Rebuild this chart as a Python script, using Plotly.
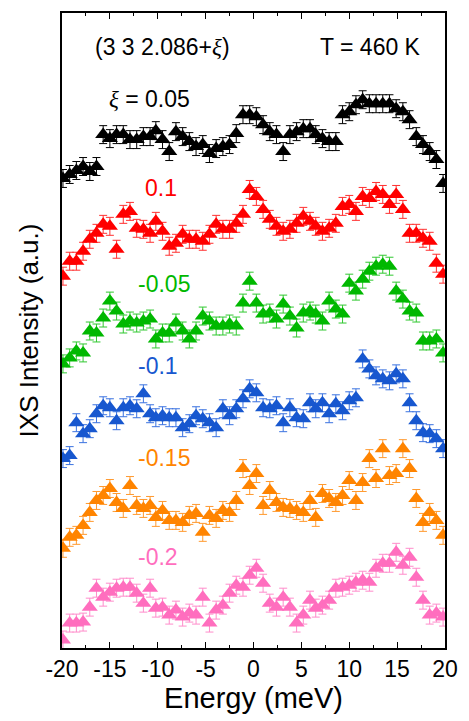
import plotly.graph_objects as go

energy = [-19.9, -19.2, -18.5, -17.8, -17.1, -16.4, -15.7, -15.0, -14.3, -13.6,
          -12.9, -12.2, -11.5, -10.8, -10.2, -9.5, -8.8, -8.1, -7.4, -6.7,
          -6.0, -5.3, -4.6, -3.9, -3.2, -2.5, -1.8, -1.1, -0.4, 0.3,
          1.0, 1.7, 2.4, 3.1, 3.8, 4.5, 5.2, 5.9, 6.5, 7.2,
          7.9, 8.6, 9.3, 10.0, 10.7, 11.4, 12.1, 12.8, 13.5, 14.2,
          14.9, 15.6, 16.3, 17.0, 17.7, 18.4, 19.1, 19.8]

xi_005 = [473, 477, 481, 485, 480, 485, 517, 513, 517, 517, 512, 512, 515, 515, 521, 512, 500, 520, 515, 510,
          505, 507, 498, 503, 505, 507, 518, 537, 537, 535, 527, 520, 517, 500, 517, 520, 523, 523, 517, 513,
          510, 510, 537, 540, 547, 552, 548, 548, 548, 548, 543, 540, 532, 515, 507, 500, 492, 468]
xi_01 = [375, 390, 390, 400, 412, 418, 427, 425, 402, 437, 440, 423, 422, 418, 430, 420, 405, 408, 417, 412,
         412, 410, 417, 427, 422, 422, 428, 437, 462, 455, 442, 432, 425, 420, 422, 428, 435, 430, 425, 420,
         423, 428, 445, 447, 440, 455, 453, 460, 457, 447, 457, 442, 418, 418, 413, 410, 388, 377]
xi_m005 = [287, 293, 300, 298, 320, 318, 333, 350, 340, 327, 330, 328, 330, 332, 312, 318, 318, 328, 320, 312,
           320, 335, 330, 325, 325, 327, 325, 348, 370, 348, 337, 338, 332, 347, 335, 323, 338, 340, 337, 330,
           350, 342, 337, 368, 360, 372, 380, 385, 387, 385, 360, 352, 340, 338, 310, 310, 312, 298]
xi_m01 = [192, 195, 228, 217, 222, 237, 245, 243, 230, 243, 245, 242, 257, 237, 233, 235, 233, 233, 223, 227,
          235, 232, 228, 223, 242, 235, 242, 252, 262, 258, 243, 242, 245, 228, 243, 233, 232, 248, 242, 248,
          237, 247, 240, 250, 253, 292, 282, 275, 272, 270, 277, 272, 248, 230, 218, 217, 212, 202]
xi_m015 = [102, 113, 115, 125, 138, 150, 155, 162, 148, 142, 165, 145, 142, 145, 133, 140, 130, 130, 128, 135,
           137, 118, 135, 132, 140, 138, 150, 182, 165, 177, 145, 160, 148, 143, 142, 140, 138, 150, 133, 157,
           152, 148, 155, 170, 150, 168, 192, 172, 202, 175, 177, 202, 182, 152, 128, 138, 130, 115]
xi_m02 = [10, 27, 27, 28, 43, 62, 53, 58, 62, 63, 63, 57, 47, 62, 42, 43, 35, 40, 33, 37,
          35, 53, 27, 40, 45, 57, 65, 63, 75, 82, 67, 47, 43, 53, 43, 27, 35, 50, 42, 45,
          50, 62, 63, 65, 68, 70, 68, 82, 87, 87, 98, 85, 93, 73, 50, 35, 37, 33]

labels = ["0.05", "0.1", "-0.05", "-0.1", "-0.15", "-0.2"]
series = [xi_005, xi_01, xi_m005, xi_m01, xi_m015, xi_m02]
colors = ["#000000", "#FF0000", "#00B800", "#1757CF", "#FF8400", "#FF6EBE"]
err_colors = ["#000000", "#FF3030", "#30C830", "#3A72E0", "#FF9A30", "#FF8CCB"]
label_pos = [(-15.3, 553), (-11.5, 463), (-12.3, 367), (-12.3, 285), (-12.3, 193), (-12.3, 93)]

fig = go.Figure()
for name, ys, c, ec in zip(labels, series, colors, err_colors):
    fig.add_trace(go.Scatter(
        x=energy, y=ys, mode="markers", name=name,
        marker=dict(symbol="triangle-up", size=14, color=c, line=dict(width=0)),
        error_y=dict(type="constant", value=9, color=ec, thickness=1, width=4),
        showlegend=False,
    ))

FONT = "Liberation Sans, Arial, sans-serif"
XI = "<span style='font-family:Liberation Serif'><i>ξ</i></span>"

for i, (name, c, (ex, ey)) in enumerate(zip(labels, colors, label_pos)):
    text = (XI + " = " + name) if i == 0 else name
    fig.add_annotation(x=ex, y=ey, xref="x", yref="y", text=text, showarrow=False,
                       xanchor="left", yanchor="middle", font=dict(size=23, color=c, family=FONT))

fig.add_annotation(x=-16.8, y=605, xref="x", yref="y", text="(3 3 2.086+" + XI + ")",
                   showarrow=False, xanchor="left", yanchor="middle",
                   font=dict(size=23, color="black", family=FONT))
fig.add_annotation(x=6.7, y=605, xref="x", yref="y", text="T = 460 K",
                   showarrow=False, xanchor="left", yanchor="middle",
                   font=dict(size=23, color="black", family=FONT))

fig.update_layout(
    width=469, height=721,
    margin=dict(l=62, r=16, t=11, b=73),
    paper_bgcolor="white", plot_bgcolor="white",
    font=dict(family=FONT, color="black"),
    xaxis=dict(
        range=[-20, 20], tickmode="array", tickvals=[-20, -15, -10, -5, 0, 5, 10, 15, 20],
        ticktext=["-20", "-15", "-10", "-5", "0", "5", "10", "15", "20"],
        ticks="inside", ticklen=6, tickwidth=1.2, tickcolor="black",
        minor=dict(dtick=2.5, tick0=0, ticks="inside", ticklen=3, tickwidth=1.2, tickcolor="black"),
        showline=True, linecolor="black", linewidth=1.6, mirror="ticks",
        showgrid=False, zeroline=False,
        tickfont=dict(size=23, family=FONT),
        title=dict(text="Energy (meV)", font=dict(size=29, family=FONT), standoff=6),
    ),
    yaxis=dict(
        range=[2, 639], showticklabels=False, ticks="",
        showline=True, linecolor="black", linewidth=1.6, mirror=True,
        showgrid=False, zeroline=False,
        title=dict(text="IXS Intensity (a.u.)", font=dict(size=26, family=FONT), standoff=14),
    ),
)

fig.write_html("out.html")
